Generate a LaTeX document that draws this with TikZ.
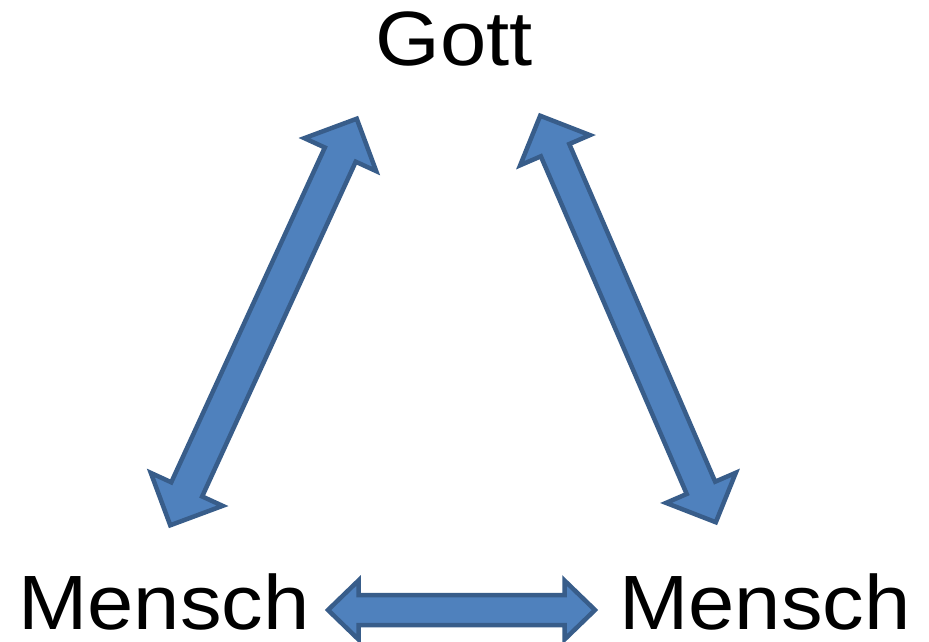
\documentclass[tikz,border=0pt]{standalone}
\usepackage{fontspec}
\setmainfont{Liberation Sans}
\usetikzlibrary{calc}
\definecolor{arrfill}{HTML}{4F81BD}
\definecolor{arrline}{HTML}{385D8A}
\tikzset{
  blockarrow/.style={fill=arrfill, draw=arrline, line width=4.5pt, line join=miter, miter limit=10},
  label/.style={inner sep=0pt, anchor=base, font=\fontsize{77}{80}\selectfont}
}
% #1,#2 outer tips; #3 shaft half width; #4 head half width; #5 head length
\newcommand{\dblblockarrow}[5]{%
  \coordinate (tA) at ($(#1)!3pt!(#2)$);
  \coordinate (tB) at ($(#2)!3pt!(#1)$);
  \coordinate (hA) at ($(tA)!#5pt!(tB)$);
  \coordinate (hB) at ($(tB)!#5pt!(tA)$);
  \filldraw[blockarrow] (tA)
    -- ($(hA)!#4pt!90:(tB)$) -- ($(hA)!#3pt!90:(tB)$)
    -- ($(hB)!#3pt!-90:(tA)$) -- ($(hB)!#4pt!-90:(tA)$)
    -- (tB)
    -- ($(hB)!#4pt!90:(tA)$) -- ($(hB)!#3pt!90:(tA)$)
    -- ($(hA)!#3pt!-90:(tB)$) -- ($(hA)!#4pt!-90:(tB)$)
    -- cycle;
}
\begin{document}
\begin{tikzpicture}[x=1pt,y=-1pt]
  \useasboundingbox (0,0) rectangle (929,642);
  \node[label] (gott) at (454,66) {\scalebox{1.08}[1]{Gott}};
  \node[label] (mensch1) at (164,629) {\scalebox{1.08}[1]{Mensch}};
  \node[label] (mensch2) at (765,629) {\scalebox{1.08}[1]{Mensch}};
  % arrow end points
  \coordinate (lt) at (358,116);
  \coordinate (lb) at (169,528);
  \coordinate (rt) at (539,113);
  \coordinate (rb) at (717,525);
  \coordinate (bl) at (325,610);
  \coordinate (br) at (598,610);
  \dblblockarrow{lt}{lb}{17}{39.5}{39.5}
  \dblblockarrow{rt}{rb}{15.5}{38}{37.5}
  \dblblockarrow{bl}{br}{15}{29.5}{30.5}
\end{tikzpicture}
\end{document}
